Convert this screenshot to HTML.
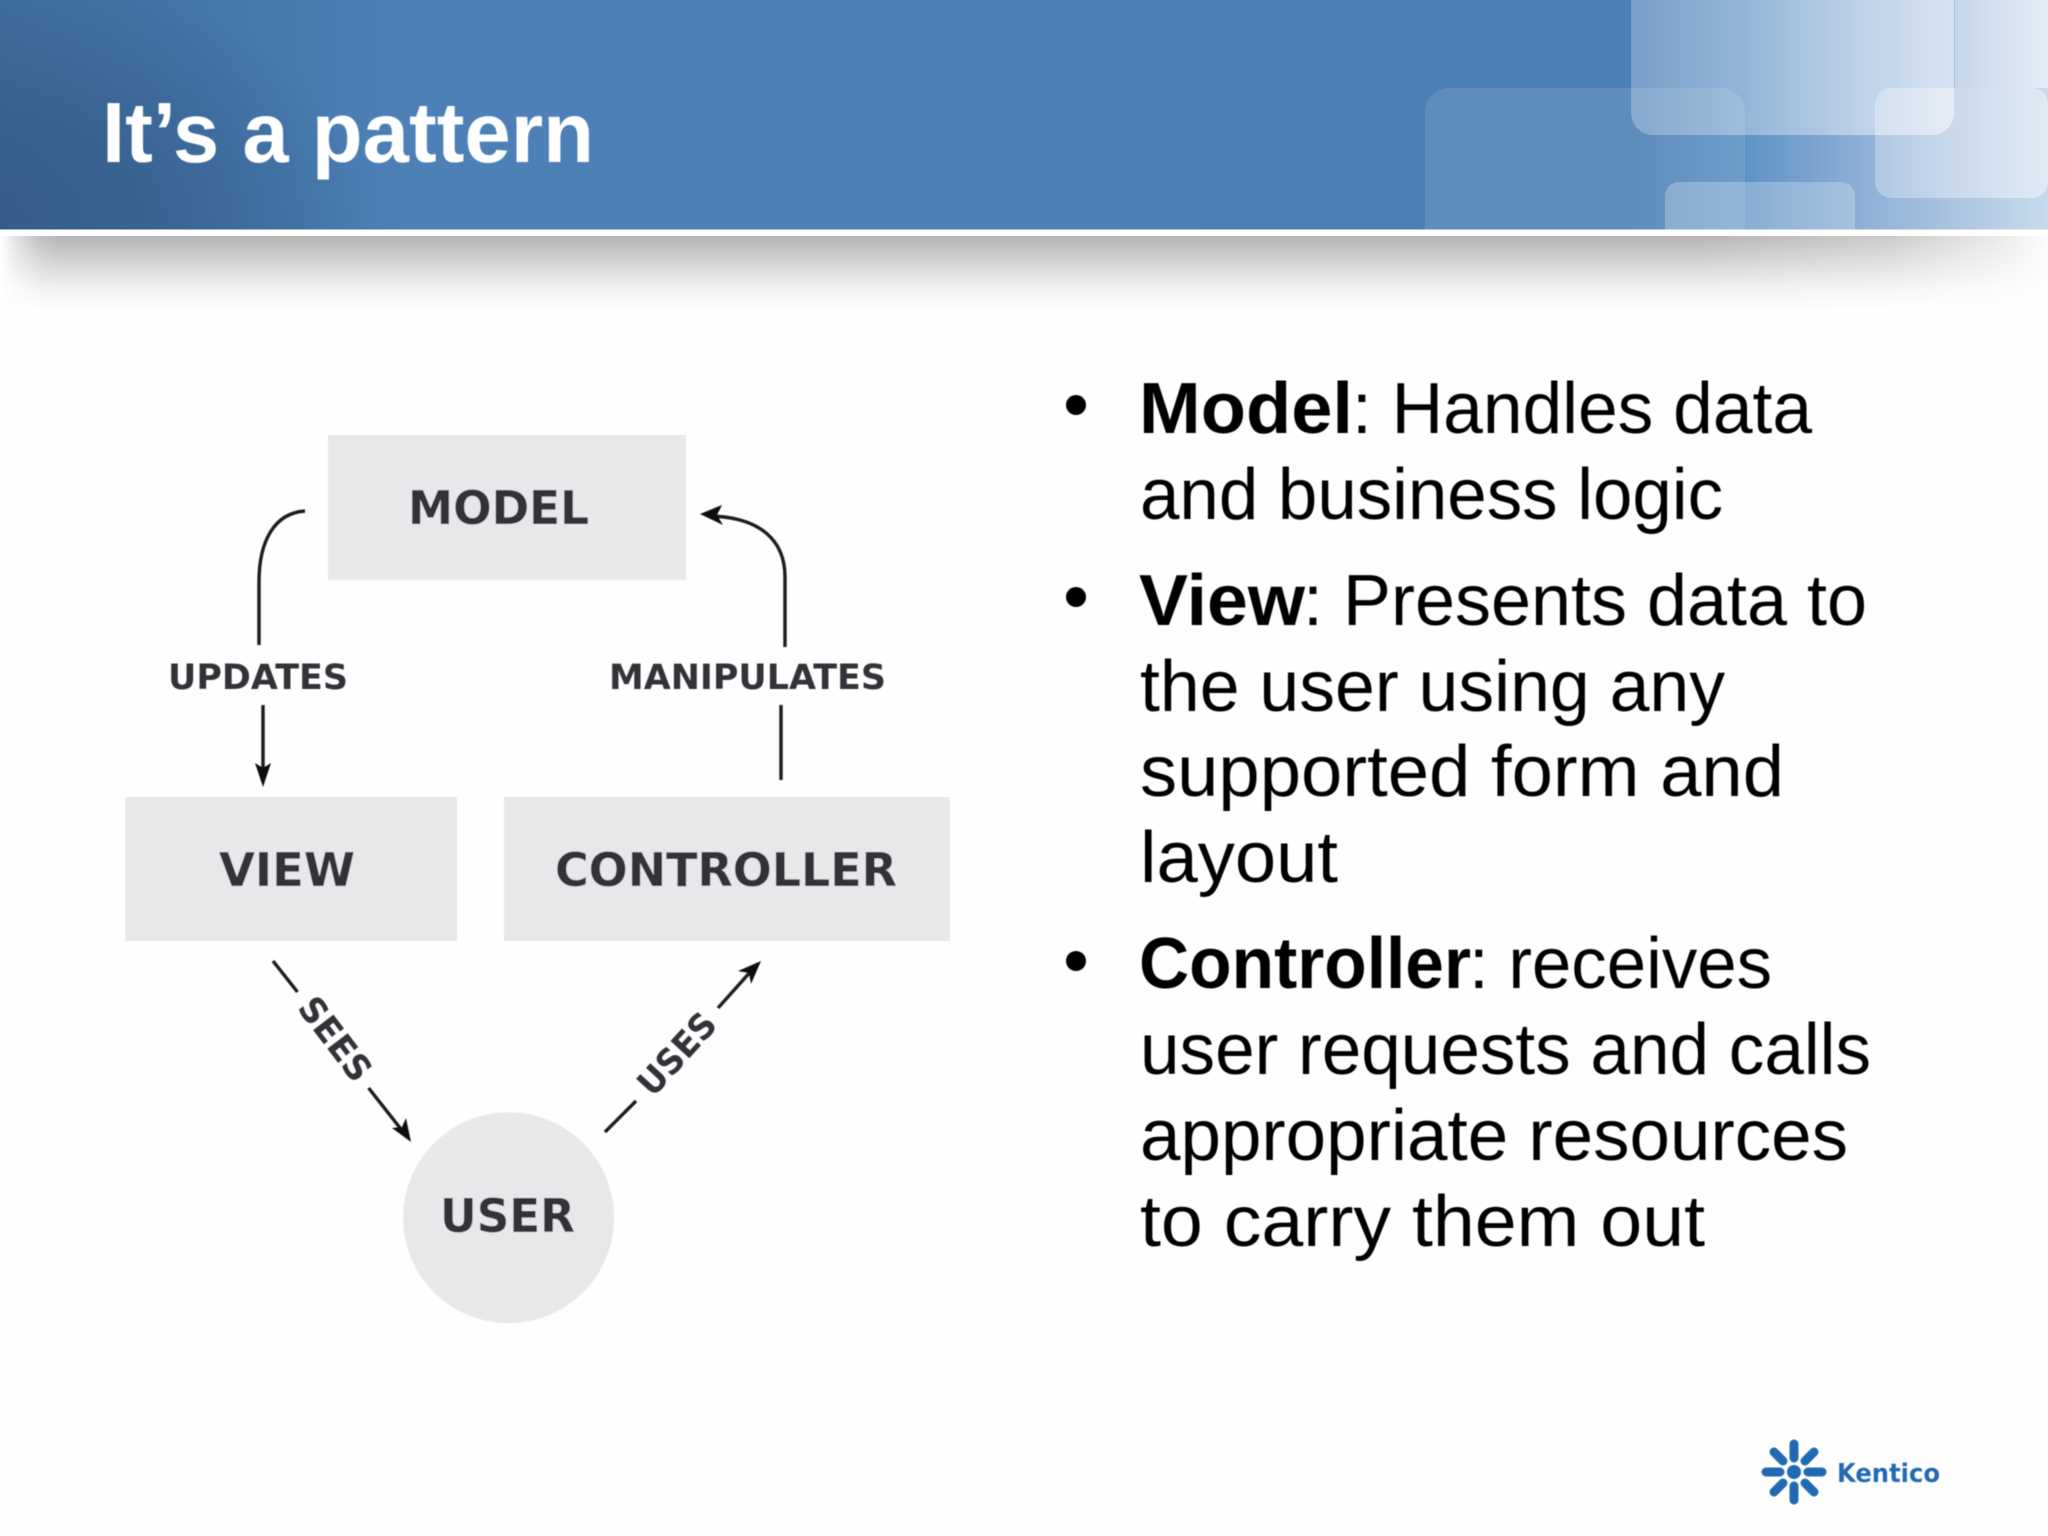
<!DOCTYPE html>
<html><head><meta charset="utf-8"><title>It's a pattern</title>
<style>html,body{margin:0;padding:0;background:#fff;width:2048px;height:1536px;overflow:hidden}svg{display:block}</style>
</head><body>
<svg xmlns="http://www.w3.org/2000/svg" width="2048" height="1536" viewBox="0 0 2048 1536">
<defs>
<linearGradient id="hdr" x1="0" y1="0" x2="1" y2="0">
<stop offset="0" stop-color="#41709f"/><stop offset=".1" stop-color="#4576ab"/><stop offset=".2" stop-color="#4c80b6"/><stop offset=".796" stop-color="#4b7fb6"/><stop offset=".852" stop-color="#5f93c5"/><stop offset=".915" stop-color="#92b2d8"/><stop offset="1" stop-color="#c8daec"/>
</linearGradient>
<radialGradient id="corner" gradientUnits="userSpaceOnUse" cx="0" cy="229" r="380" gradientTransform="translate(0 229) scale(1 .7) translate(0 -229)">
<stop offset="0" stop-color="#2f557f" stop-opacity=".7"/><stop offset=".4" stop-color="#2f557f" stop-opacity=".55"/><stop offset="1" stop-color="#2f557f" stop-opacity="0"/>
</radialGradient>
<linearGradient id="big" x1="0" y1="0" x2="1" y2="0">
<stop offset="0" stop-color="#fff" stop-opacity=".25"/><stop offset=".5" stop-color="#fff" stop-opacity=".36"/><stop offset="1" stop-color="#fff" stop-opacity=".52"/>
</linearGradient>
<linearGradient id="strip" x1="0" y1="0" x2="1" y2="0">
<stop offset="0" stop-color="#fff" stop-opacity=".3"/><stop offset="1" stop-color="#fff" stop-opacity=".5"/>
</linearGradient>
<linearGradient id="third" x1="0" y1="0" x2="1" y2="0">
<stop offset="0" stop-color="#fff" stop-opacity=".28"/><stop offset="1" stop-color="#fff" stop-opacity=".45"/>
</linearGradient>
<linearGradient id="sh" x1="0" y1="0" x2="0" y2="1">
<stop offset="0" stop-color="#b6b5b5"/><stop offset=".35" stop-color="#d4d3d4"/><stop offset=".7" stop-color="#f1f0f2"/><stop offset="1" stop-color="#fefefe"/>
</linearGradient>
<linearGradient id="shl" x1="0" y1="0" x2="1" y2="0">
<stop offset="0" stop-color="#fff"/><stop offset=".3" stop-color="#fff" stop-opacity=".55"/><stop offset=".7" stop-color="#fff" stop-opacity=".12"/><stop offset="1" stop-color="#fff" stop-opacity="0"/>
</linearGradient>
<linearGradient id="shr" x1="1" y1="0" x2="0" y2="0">
<stop offset="0" stop-color="#fff" stop-opacity=".95"/><stop offset=".15" stop-color="#fff" stop-opacity=".7"/><stop offset=".45" stop-color="#fff" stop-opacity=".3"/><stop offset="1" stop-color="#fff" stop-opacity="0"/>
</linearGradient>
<clipPath id="hc"><rect x="0" y="0" width="2048" height="229.5"/></clipPath>
<filter id="soft" x="0" y="0" width="100%" height="100%" filterUnits="userSpaceOnUse"><feGaussianBlur stdDeviation=".5"/></filter>
</defs>

<rect width="2048" height="1536" fill="#fefefe"/>

<!-- header -->
<rect x="0" y="0" width="2048" height="229.5" fill="url(#hdr)"/>
<rect x="0" y="0" width="420" height="229.5" fill="url(#corner)"/>
<g clip-path="url(#hc)">
<rect x="1425" y="88" width="320" height="200" rx="24" fill="#fff" fill-opacity=".1"/>
<rect x="1955" y="0" width="93" height="88" fill="url(#strip)"/>
<rect x="1631" y="-40" width="323" height="175" rx="22" fill="url(#big)"/>
<rect x="1875" y="88" width="173" height="110" rx="16" fill="url(#third)"/>
<rect x="1665" y="182" width="190" height="80" rx="14" fill="#fff" fill-opacity=".25"/>
</g>
<rect x="0" y="229.5" width="2048" height="6.5" fill="#fff"/>
<rect x="0" y="236" width="2048" height="74" fill="url(#sh)"/>
<rect x="0" y="236" width="60" height="74" fill="url(#shl)"/>
<rect x="1700" y="236" width="348" height="74" fill="url(#shr)"/>

<g filter="url(#soft)">
<text x="102" y="162" font-family="'Liberation Sans',sans-serif" font-weight="700" font-size="85" fill="#fff" textLength="492" lengthAdjust="spacingAndGlyphs">It’s a pattern</text>

<!-- diagram -->
<g fill="#e9e7ea">
<rect x="328" y="435" width="358" height="145"/>
<rect x="125" y="797" width="332" height="144"/>
<rect x="504" y="797" width="446" height="144"/>
<circle cx="508.6" cy="1217.7" r="105.5"/>
</g>
<g font-family="'DejaVu Sans',sans-serif" font-weight="700" fill="#333338" font-size="46">
<text x="408" y="524" textLength="181" lengthAdjust="spacingAndGlyphs">MODEL</text>
<text x="219" y="886" textLength="136" lengthAdjust="spacingAndGlyphs">VIEW</text>
<text x="555" y="886" textLength="342" lengthAdjust="spacingAndGlyphs">CONTROLLER</text>
<text x="440" y="1232" textLength="135" lengthAdjust="spacingAndGlyphs">USER</text>
<g font-size="35">
<text x="168" y="689" textLength="180" lengthAdjust="spacingAndGlyphs">UPDATES</text>
<text x="609" y="689" textLength="277" lengthAdjust="spacingAndGlyphs">MANIPULATES</text>
<text transform="translate(335 1039) rotate(52.7)" x="-48" y="12" textLength="96" lengthAdjust="spacingAndGlyphs">SEES</text>
<text transform="translate(677 1054) rotate(-47.6)" x="-49" y="12" textLength="98" lengthAdjust="spacingAndGlyphs">USES</text>
</g>
</g>
<g fill="none" stroke="#1c1c1e" stroke-width="3.4">
<path d="M305 511 C275 513 259 540 259 582 V645"/>
<path d="M263 705 V770"/>
<path d="M781 705 V780"/>
<path d="M785 647 V577 C785 540 760 518 712 516"/>
<path d="M273 961 L297.5 992"/>
<path d="M368.6 1088 L404 1133"/>
<path d="M605 1132 L636 1101"/>
<path d="M718 1008 L752 970"/>
</g>
<g fill="#111">
<path d="M263 787 L255 763 L263 768 L271 763 Z"/>
<path d="M700 514 L722 505 L717 515 L723 525 Z"/>
<path d="M411 1142 L392 1128 L402 1127 L406 1118 Z"/>
<path d="M761 961 L751 984 L749 973 L738 971 Z"/>
</g>

<!-- bullets -->
<g fill="#000">
<circle cx="1076" cy="405" r="10"/>
<circle cx="1076" cy="597" r="10"/>
<circle cx="1076" cy="961" r="10"/>
</g>
<g font-family="'Liberation Sans',sans-serif" font-size="72" fill="#000">
<text x="1139" y="433" font-weight="700" textLength="214" lengthAdjust="spacingAndGlyphs">Model</text>
<text x="1352" y="433" textLength="460" lengthAdjust="spacingAndGlyphs">: Handles data</text>
<text x="1140" y="519" textLength="583" lengthAdjust="spacingAndGlyphs">and business logic</text>
<text x="1139" y="625" font-weight="700" textLength="166" lengthAdjust="spacingAndGlyphs">View</text>
<text x="1303" y="625" textLength="564" lengthAdjust="spacingAndGlyphs">: Presents data to</text>
<text x="1140" y="711" textLength="585" lengthAdjust="spacingAndGlyphs">the user using any</text>
<text x="1140" y="796" textLength="644" lengthAdjust="spacingAndGlyphs">supported form and</text>
<text x="1140" y="882" textLength="198" lengthAdjust="spacingAndGlyphs">layout</text>
<text x="1139" y="988" font-weight="700" textLength="332" lengthAdjust="spacingAndGlyphs">Controller</text>
<text x="1469" y="988" textLength="303" lengthAdjust="spacingAndGlyphs">: receives</text>
<text x="1140" y="1074" textLength="731" lengthAdjust="spacingAndGlyphs">user requests and calls</text>
<text x="1140" y="1160" textLength="708" lengthAdjust="spacingAndGlyphs">appropriate resources</text>
<text x="1140" y="1246" textLength="565" lengthAdjust="spacingAndGlyphs">to carry them out</text>
</g>

<!-- logo -->
<g transform="translate(1794 1472)" stroke="#2469b3" stroke-width="9" stroke-linecap="round" fill="#2469b3">
<circle r="7" stroke="none"/>
<path d="M0 -28 V-14 M0 28 V14 M-28 0 H-14 M28 0 H14 M-20 -20 L-11 -11 M20 -20 L11 -11 M-20 20 L-11 11 M20 20 L11 11"/>
</g>
<text x="1837" y="1482" font-family="'DejaVu Sans',sans-serif" font-weight="700" font-size="26" fill="#2469b3" textLength="103" lengthAdjust="spacingAndGlyphs">Kentico</text>
</g>
</svg>
</body></html>
